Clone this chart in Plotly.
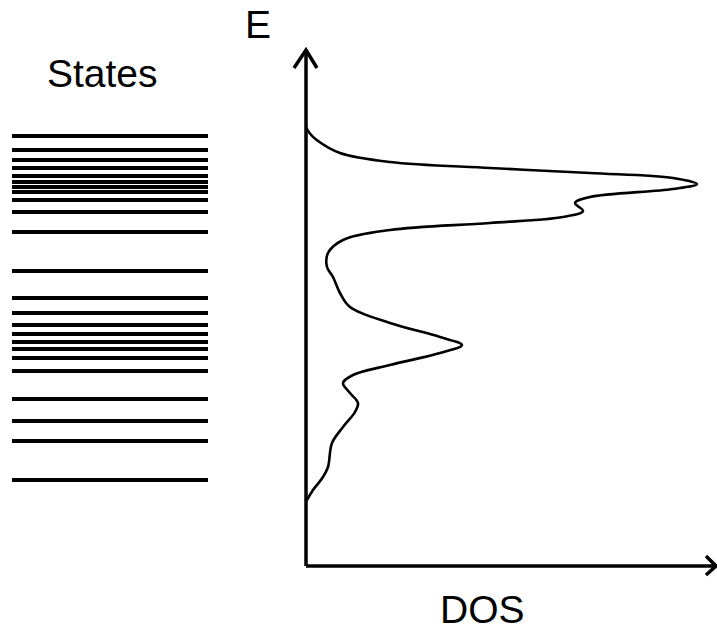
import plotly.graph_objects as go

# ---- data (energy in arbitrary units, DOS in arbitrary units) ----
state_energies = [4.30, 4.16, 4.06, 3.98, 3.90, 3.84, 3.79, 3.74, 3.66, 3.54, 3.34,
                  2.95, 2.68, 2.53, 2.41, 2.32, 2.24, 2.17, 2.08, 1.95, 1.67,
                  1.45, 1.25, 0.86]

dos_energy = [4.39, 4.33, 4.26, 4.13, 4.04, 3.98, 3.93, 3.88, 3.82, 3.77, 3.69,
              3.63, 3.55, 3.49, 3.43, 3.36, 3.26, 3.13, 2.99, 2.89, 2.73, 2.59,
              2.43, 2.29, 2.21, 2.13, 2.01, 1.91, 1.83, 1.73, 1.63, 1.54, 1.39,
              1.23, 0.99, 0.89, 0.76, 0.66]
dos_value = [0.00, 0.035, 0.107, 0.34, 0.84, 1.84, 2.84, 3.67, 3.91, 3.67, 2.84,
             2.69, 2.77, 2.57, 1.84, 0.84, 0.37, 0.22, 0.21, 0.27, 0.34, 0.44,
             0.84, 1.34, 1.56, 1.34, 0.84, 0.47, 0.37, 0.44, 0.52, 0.49, 0.37,
             0.26, 0.22, 0.17, 0.07, 0.01]

W, H = 717, 635
E_RANGE = [-0.69, 5.66]
X1_RANGE = [-12 / 196, 278 / 196]
X2_RANGE = [-0.16, 4.11]
SPLIT = 290 / W

sx, sy = [], []
for e in state_energies:
    sx += [0, 1, None]
    sy += [e, e, None]

fig = go.Figure()
fig.add_trace(go.Scatter(x=sx, y=sy, mode="lines", xaxis="x", yaxis="y",
                         line=dict(color="black", width=4), hoverinfo="skip",
                         showlegend=False))
fig.add_trace(go.Scatter(x=dos_value, y=dos_energy, mode="lines", xaxis="x2", yaxis="y",
                         line=dict(color="black", width=2.6, shape="spline", smoothing=1.0),
                         hoverinfo="skip", showlegend=False))

ax_top = 5.16
ax_right = 4.10
lw = 3.5
shapes = [
    dict(type="line", xref="x2", yref="y", x0=0, x1=0, y0=0, y1=ax_top,
         line=dict(color="black", width=lw)),
    dict(type="path", xref="x2", yref="y",
         path=f"M -0.12 {ax_top-0.18} L 0 {ax_top} L 0.11 {ax_top-0.18}",
         line=dict(color="black", width=lw)),
    dict(type="line", xref="x2", yref="y", x0=0, x1=ax_right, y0=0, y1=0,
         line=dict(color="black", width=lw)),
    dict(type="path", xref="x2", yref="y",
         path=f"M {ax_right-0.10} 0.10 L {ax_right} 0 L {ax_right-0.10} -0.09",
         line=dict(color="black", width=lw)),
]

font = dict(family="Liberation Sans, Arial, sans-serif", size=39, color="black")
annotations = [
    dict(text="States", xref="paper", yref="paper", x=102.5 / W, y=1 - 74 / H,
         xanchor="center", yanchor="middle", showarrow=False, font=font),
    dict(text="E", xref="paper", yref="paper", x=258 / W, y=1 - 24 / H,
         xanchor="center", yanchor="middle", showarrow=False, font=font),
    dict(text="DOS", xref="paper", yref="paper", x=482 / W, y=1 - 609 / H,
         xanchor="center", yanchor="middle", showarrow=False, font=font),
]

fig.update_layout(
    width=W, height=H,
    margin=dict(l=0, r=0, t=0, b=0),
    paper_bgcolor="white", plot_bgcolor="white",
    xaxis=dict(domain=[0, SPLIT], range=X1_RANGE, visible=False, fixedrange=True),
    xaxis2=dict(domain=[SPLIT, 1], range=X2_RANGE, visible=False, fixedrange=True),
    yaxis=dict(domain=[0, 1], range=E_RANGE, visible=False, fixedrange=True),
    shapes=shapes,
    annotations=annotations,
    showlegend=False,
)

fig.write_html("out.html", config={"displayModeBar": False},
               post_script="document.body.style.margin='0px';document.body.style.overflow='hidden';")
